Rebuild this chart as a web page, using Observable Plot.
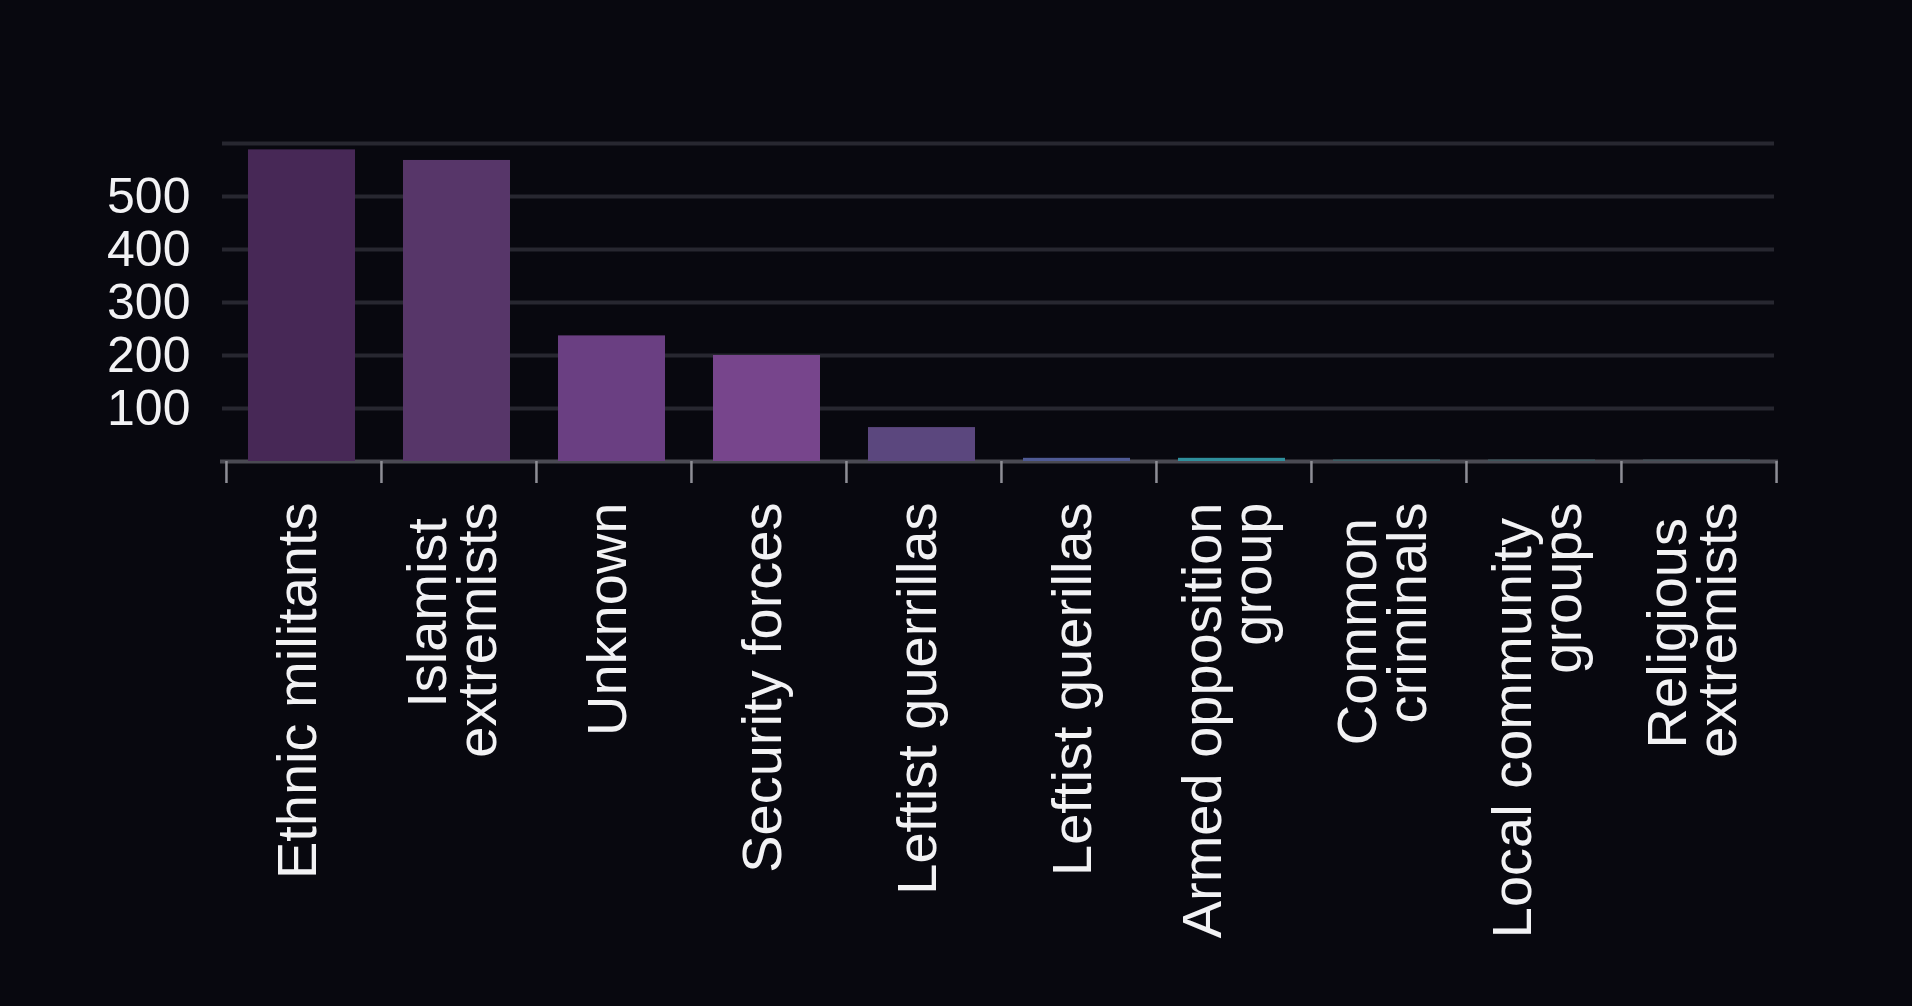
<!DOCTYPE html>
<html>
<head>
<meta charset="utf-8">
<script src="https://cdn.jsdelivr.net/npm/d3@7"></script>
<script src="https://cdn.jsdelivr.net/npm/@observablehq/plot@0.6"></script>
<style>
  html, body { margin: 0; padding: 0; background: #08080f; }
  #chart svg { display: block; }
</style>
</head>
<body>
<div id="chart"></div>
<script>
// ---- data ----
const categories = [
  "Ethnic militants", "Islamist extremists", "Unknown", "Security forces",
  "Leftist guerrillas", "Leftist guerillas", "Armed opposition group",
  "Common criminals", "Local community groups", "Religious extremists"
];
const values = [588, 568, 237, 200, 64, 6, 6, 3, 3, 3];
const tickLabels = [
  "Ethnic militants", "Islamist \nextremists", "Unknown", "Security forces",
  "Leftist guerrillas", "Leftist guerillas", "Armed opposition\ngroup",
  "Common \ncriminals", "Local community \ngroups", "Religious \nextremists"
];
const yTickValues = [100, 200, 300, 400, 500];
const yGridValues = [100, 200, 300, 400, 500, 600];

// ---- build table ----
const rows = categories.map((c, i) => ({
  category: c,
  value: values[i],
  label: tickLabels[i].replace(" \n", "\u00a0\n")
}));

const W = 1912, H = 1006;
const mL = 225, mR = 136, mT = 143, mB = 545;
const step = (W - mL - mR) / categories.length;
const textColor = "#f2f2f4";

const chart = Plot.plot({
  width: W,
  height: H,
  marginLeft: mL,
  marginRight: mR,
  marginTop: mT,
  marginBottom: mB,
  style: {
    background: "#08080f",
    color: textColor,
    fontFamily: "'Liberation Sans', Arial, Helvetica, sans-serif"
  },
  x: { domain: categories, paddingInner: 0.31, paddingOuter: 0.155, axis: null },
  y: { domain: [0, 600], axis: null, label: null },
  color: {
    domain: categories,
    range: ["#472856", "#573669", "#6a3f82", "#77458c", "#5b477e",
            "#4f5a94", "#2f8f9c", "#3a5c63", "#3f555c", "#454f57"]
  },
  marks: [
    Plot.gridY(yGridValues, { stroke: "#272730", strokeOpacity: 1, strokeWidth: 4, insetLeft: -3, insetRight: 2 }),
    Plot.ruleY([0], { stroke: "#4a4a53", strokeWidth: 4, insetLeft: -5, insetRight: -2 }),
    Plot.ruleX(categories, { x: d => d, y1: 0, y2: 0, dx: -step / 2, insetBottom: -22, stroke: "#8e8e96", strokeWidth: 2.5 }),
    Plot.ruleX(categories.slice(-1), { x: d => d, y1: 0, y2: 0, dx: step / 2, insetBottom: -22, stroke: "#8e8e96", strokeWidth: 2.5 }),
    Plot.barY(rows, { x: "category", y: "value", fill: "category", dx: -2 }),
    Plot.axisY(yTickValues, { tickSize: 0, tickPadding: 35, fontSize: 50, fill: textColor, label: null }),
    Plot.text(rows, {
      x: "category", y: 0, text: "label",
      rotate: -90, textAnchor: "end", lineAnchor: "middle",
      lineHeight: 0.9, fontSize: 56, dy: 41, dx: -4, fill: textColor
    })
  ]
});

document.getElementById("chart").appendChild(chart);
</script>
</body>
</html>
